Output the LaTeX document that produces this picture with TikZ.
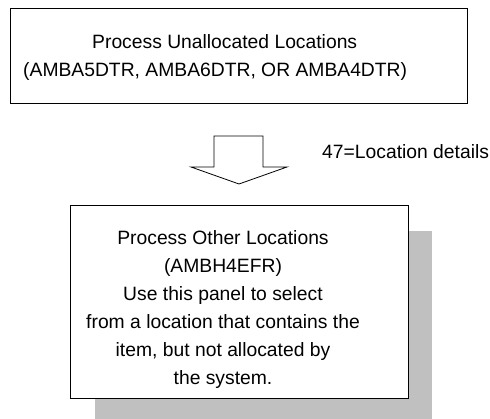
\documentclass[tikz,border=0pt]{standalone}
\usepackage{fontspec}
\setmainfont{Liberation Sans}
\begin{document}
\begin{tikzpicture}[x=1pt,y=-1pt,
  boxstyle/.style={draw=black,line width=1pt,fill=white},
  shadowstyle/.style={fill=shadowgray,draw=none},
  txt/.style={inner sep=0pt,font=\fontsize{19.3}{28}\selectfont},
  blockarrow/.style={draw=black,line width=0.8pt,fill=white,line join=miter}]
\definecolor{shadowgray}{RGB}{192,192,192}
\useasboundingbox (0,0) rectangle (490,419);
% top box
\draw[boxstyle] (10.5,8.5) rectangle (467.5,104);
\node[txt,align=left,anchor=north west] (top) at (23,34)
  {\hspace*{69pt}Process Unallocated Locations\\(AMBA5DTR, AMBA6DTR, OR AMBA4DTR)};
% block arrow
\draw[blockarrow] (214,136) -- (263,136) -- (263,167) -- (287,167) -- (239,184)
  -- (191,167) -- (214,167) -- cycle;
\node[txt,anchor=base west] (lbl) at (322,159) {47=Location details};
% bottom box with shadow
\fill[shadowstyle] (95,231) rectangle (432,424);
\draw[boxstyle] (70,206) rectangle (408,399);
\node[txt,align=center,anchor=north] (bottom) at (223,230)
  {Process Other Locations\\(AMBH4EFR)\\Use this panel to select\\from a location that contains the\\item, but not allocated by\\the system.};
\end{tikzpicture}
\end{document}
